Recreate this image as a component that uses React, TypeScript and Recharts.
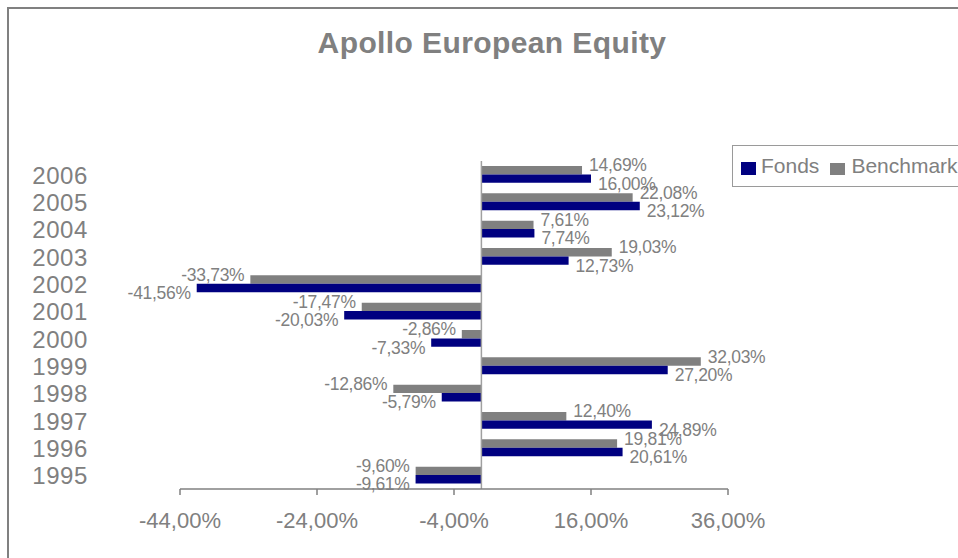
import React from 'react';
import { BarChart, Bar, XAxis, YAxis, ReferenceLine, LabelList } from 'recharts';

const years = ['2006', '2005', '2004', '2003', '2002', '2001', '2000', '1999', '1998', '1997', '1996', '1995'];
const fonds = [16.0, 23.12, 7.74, 12.73, -41.56, -20.03, -7.33, 27.2, -5.79, 24.89, 20.61, -9.61];
const benchmark = [14.69, 22.08, 7.61, 19.03, -33.73, -17.47, -2.86, 32.03, -12.86, 12.4, 19.81, -9.6];
const xTicks = [-44, -24, -4, 16, 36];
const xDomain = [-44, 36];

const data = years.map((y, i) => ({ year: y, fonds: fonds[i], benchmark: benchmark[i] }));

const NAVY = '#000080';
const GRAY = '#808080';
const TEXT = '#808080';
const FONT = '"Liberation Sans", Arial, sans-serif';

const fmt = (v: number) => v.toFixed(2).replace('.', ',') + '%';

const makeLabel = (dyOff: number) => (props: any) => {
  const { x, y, width, height, value } = props;
  const v = Number(value);
  const x0 = Number(x);
  const w = Number(width);
  const left = Math.min(x0, x0 + w);
  const right = Math.max(x0, x0 + w);
  const end = v >= 0 ? right : left;
  const cy = Number(y) + Number(height) / 2 + dyOff;
  return (
    <text
      x={v >= 0 ? end + 7 : end - 6}
      y={cy}
      dy={6}
      textAnchor={v >= 0 ? 'start' : 'end'}
      fill={TEXT}
      fontSize={17.5}
      fontFamily={FONT}
      letterSpacing={-0.3}
    >
      {fmt(v)}
    </text>
  );
};

const YTick = (props: any) => {
  const { y, payload } = props;
  return (
    <text x={88} y={y} dy={9} textAnchor="end" fill={TEXT} fontSize={24} fontFamily={FONT} letterSpacing={0.6}>
      {payload.value}
    </text>
  );
};

export default function App() {
  return (
    <div
      style={{
        position: 'absolute',
        left: 0,
        top: 0,
        width: 958,
        height: 558,
        background: '#fff',
        overflow: 'hidden',
        fontFamily: FONT,
      }}
    >
      <div
        style={{
          position: 'absolute',
          left: 7,
          top: 7,
          width: 1100,
          height: 700,
          border: '2px solid #808080',
          boxSizing: 'border-box',
        }}
      />
      <div
        style={{
          position: 'absolute',
          left: 0,
          width: 984,
          top: 25,
          textAlign: 'center',
          fontSize: 30,
          fontWeight: 'bold',
          color: TEXT,
          letterSpacing: 0.4,
          lineHeight: '36px',
        }}
      >
        Apollo European Equity
      </div>
      <div
        style={{
          position: 'absolute',
          left: 732,
          top: 145,
          width: 300,
          height: 42,
          border: '1px solid #9a9a9a',
          boxSizing: 'border-box',
          display: 'flex',
          alignItems: 'center',
          paddingLeft: 8,
          fontSize: 21,
          color: TEXT,
          whiteSpace: 'nowrap',
        }}
      >
        <span style={{ display: 'inline-block', width: 15, height: 13, background: NAVY, marginRight: 5, marginTop: 4 }} />
        <span>Fonds</span>
        <span style={{ display: 'inline-block', width: 15, height: 12, background: GRAY, marginLeft: 11, marginRight: 6, marginTop: 5 }} />
        <span>Benchmark</span>
      </div>
      <div style={{ position: 'absolute', left: 0, top: 0 }}>
        <BarChart
          width={958}
          height={558}
          data={data}
          layout="vertical"
          margin={{ top: 161, right: 230, bottom: 29, left: 0 }}
          barGap={0}
          barSize={8.4}
        >
          <XAxis
            type="number"
            domain={xDomain}
            ticks={xTicks}
            allowDataOverflow
            tickFormatter={(v: number) => fmt(v)}
            stroke={GRAY}
            axisLine={{ stroke: GRAY, strokeWidth: 1.5 }}
            tickLine={{ stroke: GRAY, strokeWidth: 1.5 }}
            tickSize={6}
            tickMargin={17}
            height={40}
            tick={{ fill: TEXT, fontSize: 22, fontFamily: FONT }}
          />
          <YAxis
            type="category"
            dataKey="year"
            width={180}
            axisLine={false}
            tickLine={false}
            tick={<YTick />}
            interval={0}
          />
          <ReferenceLine x={0} stroke="#a0a0a0" strokeWidth={1.5} />
          <Bar dataKey="benchmark" name="Benchmark" fill={GRAY} isAnimationActive={false}>
            <LabelList dataKey="benchmark" content={makeLabel(-5)} />
          </Bar>
          <Bar dataKey="fonds" name="Fonds" fill={NAVY} isAnimationActive={false}>
            <LabelList dataKey="fonds" content={makeLabel(5)} />
          </Bar>
        </BarChart>
      </div>
    </div>
  );
}
